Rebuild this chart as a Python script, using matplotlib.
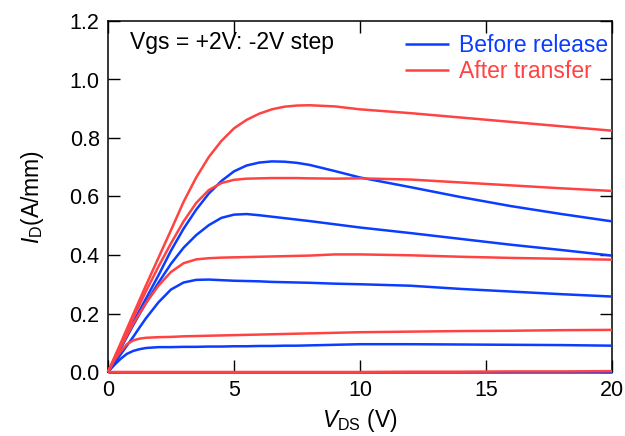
import matplotlib
matplotlib.use("Agg")
import matplotlib.pyplot as plt

plt.rcParams['font.family'] = ['Liberation Sans', 'DejaVu Sans']
plt.rcParams['mathtext.fontset'] = 'custom'
plt.rcParams['mathtext.rm'] = 'Liberation Sans'
plt.rcParams['mathtext.it'] = 'Liberation Sans:italic'

# Drain voltage grid (V)
vds = [0, .25, .5, .75, 1, 1.25, 1.5, 2, 2.5, 3, 3.5, 4, 4.5, 5, 5.5, 6, 6.5, 7, 7.5, 8, 9, 10, 12, 14, 16, 18, 20]

# Before release (A/mm), Vgs from +2 V down in -2 V steps
before_1 = [0, .043, .085, .128, .17, .21, .25, .33, .415, .49, .555, .61, .653, .686, .706, .716, .72, .719, .715, .708, .687, .665, .632, .598, .567, .54, .515]
before_2 = [0, .04, .08, .12, .16, .198, .235, .305, .37, .425, .468, .502, .527, .538, .54, .536, .531, .526, .521, .516, .505, .494, .475, .455, .435, .417, .398]
before_3 = [0, .03, .06, .09, .12, .152, .183, .238, .282, .306, .315, .316, .314, .312, .311, .31, .308, .307, .306, .305, .302, .30, .295, .284, .275, .266, .258]
before_4 = [0, .024, .045, .062, .072, .078, .082, .085, .085, .086, .086, .087, .087, .088, .088, .089, .089, .09, .09, .091, .093, .095, .095, .094, .093, .092, .09]
before_5 = [0] * 27

# After transfer (A/mm)
after_1 = [0, .049, .098, .148, .197, .246, .295, .39, .485, .582, .665, .735, .79, .833, .862, .883, .898, .907, .911, .912, .908, .898, .885, .87, .855, .84, .825]
after_2 = [0, .047, .093, .139, .185, .23, .275, .36, .44, .515, .578, .622, .646, .657, .661, .662, .663, .663, .663, .662, .661, .662, .658, .648, .638, .628, .619]
after_3 = [0, .043, .085, .125, .165, .2, .235, .295, .342, .372, .385, .389, .391, .392, .393, .394, .395, .396, .397, .398, .402, .402, .399, .394, .39, .387, .384]
after_4 = [0, .04, .07, .095, .108, .114, .117, .119, .12, .122, .123, .124, .125, .126, .127, .128, .129, .13, .131, .132, .134, .136, .138, .14, .141, .143, .144]
after_5 = [0] * 22 + [.001, .001, .002, .002, .003]

before = [before_1, before_2, before_3, before_4, before_5]
after = [after_1, after_2, after_3, after_4, after_5]

blue = '#0a3dff'
red = '#ff4343'

fig = plt.figure(figsize=(6.25, 4.36), dpi=100)
ax = fig.add_axes([108/625, 64/436, 504/625, 351/436])

for i, c in enumerate(before):
    ax.plot(vds, c, color=blue, lw=1.8, clip_on=False, solid_capstyle='butt',
            solid_joinstyle='round', label='Before release' if i == 0 else None, zorder=3)
for i, c in enumerate(after):
    ax.plot(vds, c, color=red, lw=1.8, clip_on=False, solid_capstyle='butt',
            solid_joinstyle='round', label='After transfer' if i == 0 else None, zorder=4)

ax.set_xlim(0, 20)
ax.set_ylim(0, 1.2)
ax.set_xticks([0, 5, 10, 15, 20])
ax.set_yticks([0, 0.2, 0.4, 0.6, 0.8, 1.0, 1.2])
ax.set_yticklabels(['0.0', '0.2', '0.4', '0.6', '0.8', '1.0', '1.2'])
ax.tick_params(direction='in', length=8.5, width=1, labelsize=15.5,
               top=True, right=True, pad=6)
for s in ax.spines.values():
    s.set_linewidth(1.1)

ax.set_xlabel(r'$V_{\rm DS}$ (V)', fontsize=16.5, labelpad=4)
ax.set_ylabel(r'$I_{\rm D}$(A/mm)', fontsize=16.5, labelpad=17)

ax.text(0.044, 0.921, 'Vgs = +2V: -2V step', transform=ax.transAxes,
        fontsize=16.5, va='baseline', ha='left')

leg = ax.legend(loc='upper right', bbox_to_anchor=(1.018, 1.0), frameon=False,
                fontsize=16.5, handlelength=1.9, handletextpad=0.45,
                labelspacing=0.15, borderaxespad=0.45, borderpad=0.1)
for t, col in zip(leg.get_texts(), [blue, red]):
    t.set_color(col)

fig.savefig('out.png', dpi=100)
